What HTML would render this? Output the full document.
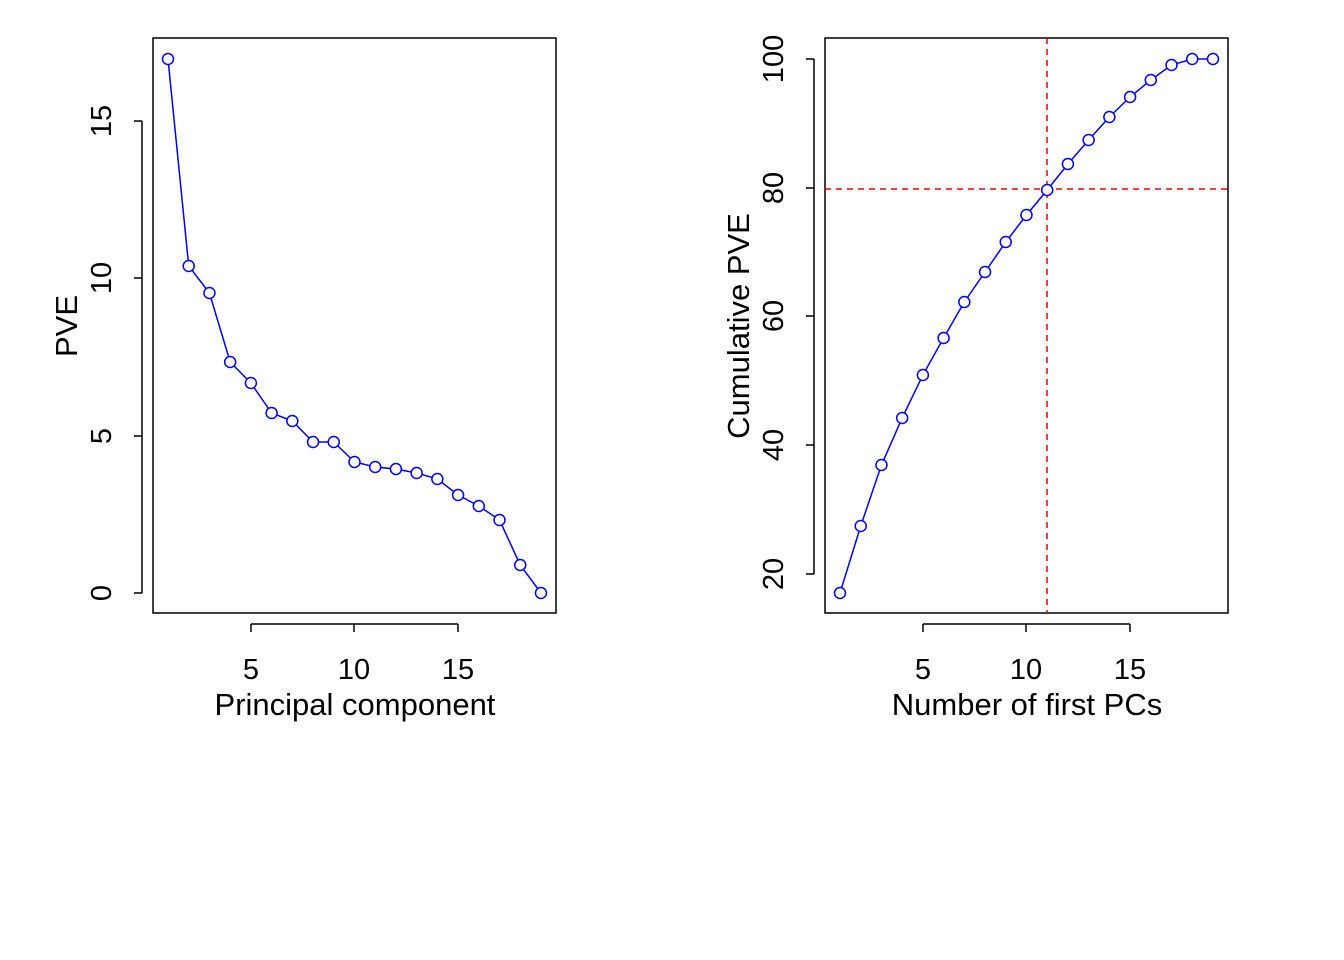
<!DOCTYPE html>
<html><head><style>body{margin:0;background:#fff}svg{display:block}text{font-family:"Liberation Sans",Arial,sans-serif;font-size:29px;fill:#000}.t{font-size:31px}</style></head><body>
<svg width="1344" height="960" xmlns="http://www.w3.org/2000/svg">
<rect width="1344" height="960" fill="#fff"/>
<g fill="none" stroke="#000" stroke-width="1.5">
<rect x="153" y="38" width="403" height="575"/>
<path d="M142 121V593M142 121h-8M142 278h-8M142 436h-8M142 593h-8"/>
<path d="M251 624H458M251 624v8M354 624v8M458 624v8"/>
<rect x="825" y="38" width="403" height="575"/>
<path d="M814 59V574M814 59h-8M814 188h-8M814 316h-8M814 445h-8M814 574h-8"/>
<path d="M923 624H1130M923 624v8M1026 624v8M1130 624v8"/>
</g>
<g text-anchor="middle">
<text transform="translate(111,121) rotate(-90)">15</text>
<text transform="translate(111,278) rotate(-90)">10</text>
<text transform="translate(111,436) rotate(-90)">5</text>
<text transform="translate(111,593) rotate(-90)">0</text>
<text class="t" transform="translate(77,326) rotate(-90)">PVE</text>
<text x="251" y="679">5</text><text x="354" y="679">10</text><text x="458" y="679">15</text>
<text class="t" x="355" y="715">Principal component</text>
<text transform="translate(783,59) rotate(-90)">100</text>
<text transform="translate(783,188) rotate(-90)">80</text>
<text transform="translate(783,316) rotate(-90)">60</text>
<text transform="translate(783,445) rotate(-90)">40</text>
<text transform="translate(783,574) rotate(-90)">20</text>
<text class="t" transform="translate(749,326) rotate(-90)">Cumulative PVE</text>
<text x="923" y="679">5</text><text x="1026" y="679">10</text><text x="1130" y="679">15</text>
<text class="t" x="1027" y="715">Number of first PCs</text>
</g>
<g stroke="#e00" stroke-width="1.5" stroke-dasharray="6,5">
<line x1="825" y1="189" x2="1228" y2="189"/><line x1="1047" y1="38" x2="1047" y2="613"/>
</g>
<g id="p" fill="none" stroke="#00f" stroke-width="1.5"></g>
<script>
var g=document.getElementById('p'),ns='http://www.w3.org/2000/svg';
function draw(x0,ys){var pts=ys.map(function(y,i){return [x0+i*20.72,y]});
var pl=document.createElementNS(ns,'polyline');pl.setAttribute('points',pts.map(function(p){return p.join(',')}).join(' '));g.appendChild(pl);
pts.forEach(function(p){var c=document.createElementNS(ns,'circle');c.setAttribute('cx',p[0]);c.setAttribute('cy',p[1]);c.setAttribute('r',5.5);c.setAttribute('fill','#fff');g.appendChild(c);});}
draw(168,[59,266,293,362,383,413,421,442,442,462,467,469,473,479,495,506,520,565,593]);
draw(840,[593,526,465,418,375,338,302,272,242,215,190,164,140,117,97,80,65,59,59]);
</script>
</svg>
</body></html>
